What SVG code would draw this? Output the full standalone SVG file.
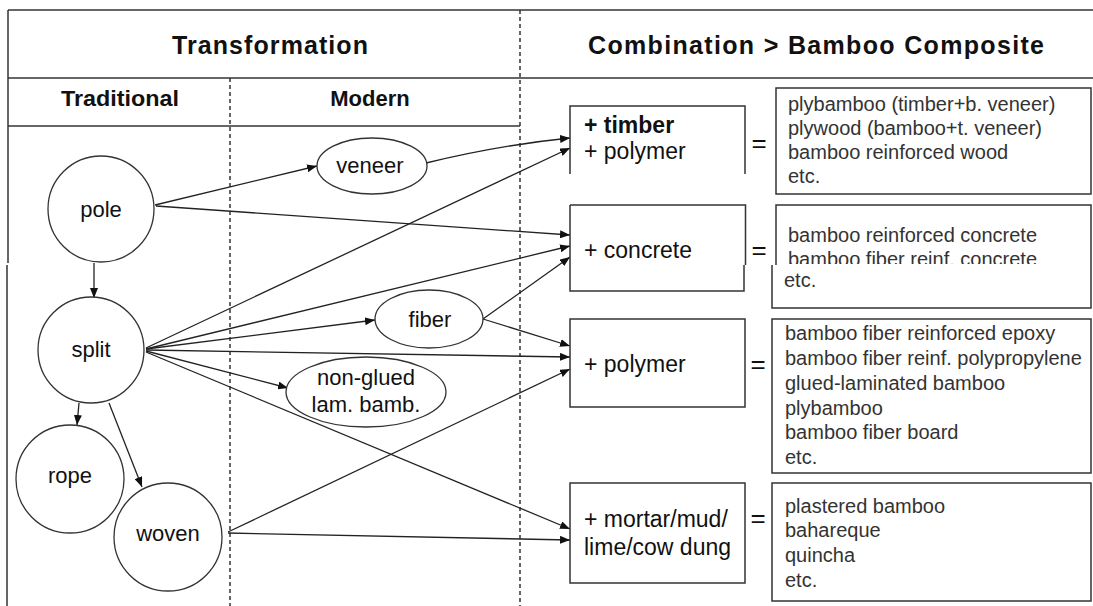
<svg xmlns="http://www.w3.org/2000/svg" width="1093" height="606" viewBox="0 0 1093 606">
<defs>
<marker id="ah" viewBox="0 0 10 8" refX="10" refY="4" markerWidth="10" markerHeight="8" markerUnits="userSpaceOnUse" orient="auto"><path d="M0,0 L10,4 L0,8 z" fill="#111"/></marker>
<clipPath id="cut"><rect x="770" y="200" width="330" height="64"/></clipPath>
</defs>
<style>
.ln{stroke:#333;stroke-width:1.5;fill:none}
.dash{stroke:#333;stroke-width:1.5;stroke-dasharray:4 3;fill:none}
.node{fill:#fff;stroke:#333;stroke-width:1.3}
.box{fill:#fff;stroke:#333;stroke-width:1.5}
.c{stroke:#222;stroke-width:1.3;fill:none;marker-end:url(#ah)}
.t{font-family:"Liberation Sans",Arial,sans-serif;fill:#111}
.h{font-size:25px;font-weight:bold;text-anchor:middle}
.sh{font-size:22px;font-weight:bold;text-anchor:middle}
.n{font-size:22px;text-anchor:middle}
.b{font-size:23px}
.eq{font-size:26px;text-anchor:middle}
.l{font-size:20px;fill:#333}
</style>

<g id="frame">
<line class="ln" x1="8" y1="10" x2="1093" y2="10"/>
<line class="ln" x1="8" y1="78" x2="1093" y2="78"/>
<line class="ln" x1="8" y1="126" x2="520" y2="126"/>
<line class="ln" x1="8" y1="10" x2="8" y2="263"/>
<line class="ln" x1="7" y1="265" x2="7" y2="606"/>
<line class="dash" x1="230" y1="78" x2="230" y2="606"/>
<line class="dash" x1="520" y1="10" x2="520" y2="606"/>
<text class="t h" x="270" y="54" textLength="196" lengthAdjust="spacing">Transformation</text>
<text class="t h" x="816" y="54" textLength="456" lengthAdjust="spacing">Combination &gt; Bamboo Composite</text>
<text class="t sh" x="120" y="106" textLength="118" lengthAdjust="spacingAndGlyphs">Traditional</text>
<text class="t sh" x="370" y="106">Modern</text>
</g>

<g id="connectors">
<line class="c" x1="94" y1="263" x2="94" y2="298"/>
<line class="c" x1="79" y1="403" x2="77" y2="425"/>
<line class="c" x1="109" y1="403" x2="142" y2="487"/>
<line class="c" x1="155" y1="205" x2="317" y2="166"/>
<path class="c" d="M426,163 Q500,145 570,138"/>
<line class="c" x1="156" y1="206" x2="570" y2="235"/>
<line class="c" x1="146" y1="348" x2="570" y2="148"/>
<line class="c" x1="146" y1="349" x2="570" y2="246"/>
<line class="c" x1="146" y1="349" x2="375" y2="320"/>
<line class="c" x1="146" y1="350" x2="570" y2="357"/>
<line class="c" x1="146" y1="351" x2="288" y2="388"/>
<line class="c" x1="146" y1="352" x2="570" y2="529"/>
<line class="c" x1="483" y1="319" x2="570" y2="257"/>
<line class="c" x1="483" y1="319" x2="570" y2="346"/>
<line class="c" x1="228" y1="532" x2="570" y2="369"/>
<line class="c" x1="228" y1="533" x2="570" y2="540"/>
</g>

<g id="pole"><circle class="node" cx="101" cy="209" r="53"/><text class="t n" x="101" y="217">pole</text></g>
<g id="split"><circle class="node" cx="91" cy="350" r="53"/><text class="t n" x="91" y="357">split</text></g>
<g id="rope"><circle class="node" cx="70" cy="479" r="54"/><text class="t n" x="70" y="483">rope</text></g>
<g id="woven"><circle class="node" cx="168" cy="537" r="54"/><text class="t n" x="168" y="541">woven</text></g>
<g id="veneer"><ellipse class="node" cx="372" cy="166" rx="55" ry="28"/><text class="t n" x="370" y="173">veneer</text></g>
<g id="fiber"><ellipse class="node" cx="429" cy="319" rx="54" ry="29"/><text class="t n" x="430" y="327">fiber</text></g>
<g id="nonglued"><ellipse class="node" cx="366" cy="392" rx="80" ry="35"/><text class="t n" x="366" y="385">non-glued</text><text class="t n" x="366" y="412">lam. bamb.</text></g>

<g id="timber">
<path class="box" d="M570,174 V106 H745 V174"/>
<text class="t b" x="584" y="133" font-weight="bold">+ timber</text>
<text class="t b" x="584" y="159">+ polymer</text>
</g>
<g id="concrete">
<path class="box" d="M570,205 H745.5 V265 M744,265 V291 H570 V205"/>
<text class="t b" x="584" y="258">+ concrete</text>
</g>
<g id="polymer">
<rect class="box" x="570" y="319" width="175" height="88"/>
<text class="t b" x="584" y="372">+ polymer</text>
</g>
<g id="mortar">
<rect class="box" x="570" y="483" width="175" height="100"/>
<text class="t b" x="584" y="527">+ mortar/mud/</text>
<text class="t b" x="584" y="555">lime/cow dung</text>
</g>

<g id="equals">
<text class="t eq" x="759" y="152">=</text>
<text class="t eq" x="759" y="259">=</text>
<text class="t eq" x="758" y="373">=</text>
<text class="t eq" x="758" y="527">=</text>
</g>

<g id="result1">
<rect class="box" x="776" y="88" width="315" height="106"/>
<text class="t l" x="788" y="111">plybamboo (timber+b. veneer)</text>
<text class="t l" x="788" y="135">plywood (bamboo+t. veneer)</text>
<text class="t l" x="788" y="159">bamboo reinforced wood</text>
<text class="t l" x="788" y="183">etc.</text>
</g>
<g id="result2">
<path class="box" d="M776,265 V205 H1091 V265"/>
<path class="box" d="M772,265 V308 H1091 V265"/>
<text class="t l" x="788" y="242">bamboo reinforced concrete</text>
<text class="t l" x="788" y="266" clip-path="url(#cut)">bamboo fiber reinf. concrete</text>
<text class="t l" x="784" y="287">etc.</text>
</g>
<g id="result3">
<rect class="box" x="772" y="319" width="319" height="154"/>
<text class="t l" x="785" y="340">bamboo fiber reinforced epoxy</text>
<text class="t l" x="785" y="365">bamboo fiber reinf. polypropylene</text>
<text class="t l" x="785" y="390">glued-laminated bamboo</text>
<text class="t l" x="785" y="415">plybamboo</text>
<text class="t l" x="785" y="439">bamboo fiber board</text>
<text class="t l" x="785" y="464">etc.</text>
</g>
<g id="result4">
<rect class="box" x="772" y="483" width="319" height="118"/>
<text class="t l" x="785" y="513">plastered bamboo</text>
<text class="t l" x="785" y="537">bahareque</text>
<text class="t l" x="785" y="562">quincha</text>
<text class="t l" x="785" y="587">etc.</text>
</g>
</svg>
